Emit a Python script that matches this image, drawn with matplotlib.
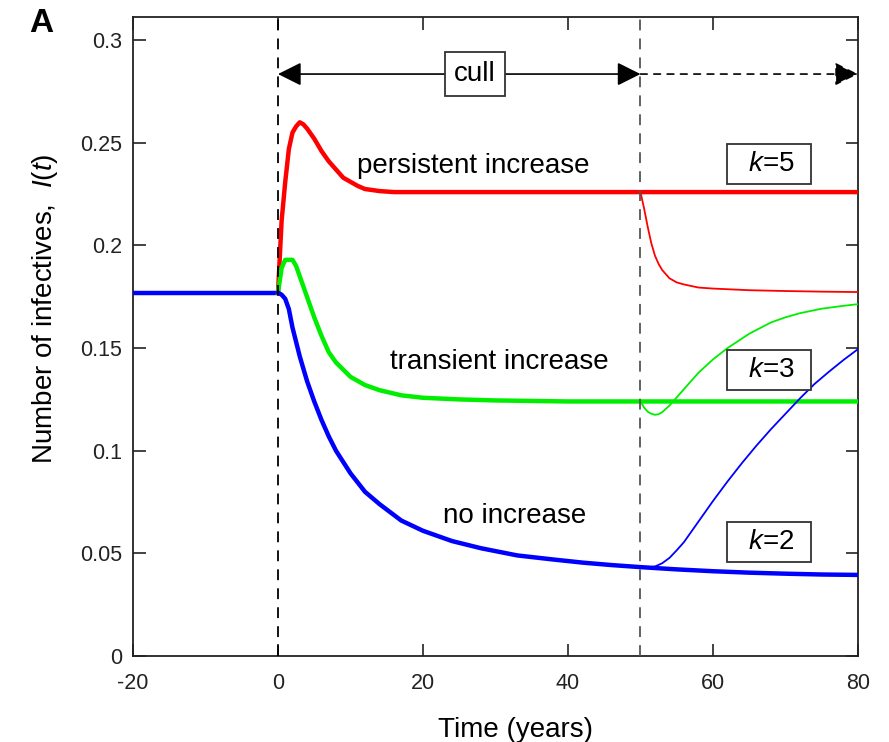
import matplotlib
matplotlib.use("Agg")
import matplotlib.pyplot as plt

plt.rcParams['font.family'] = ['Liberation Sans', 'DejaVu Sans']
plt.rcParams['mathtext.fontset'] = 'custom'
plt.rcParams['mathtext.rm'] = 'Liberation Sans'
plt.rcParams['mathtext.it'] = 'Liberation Sans:italic'
plt.rcParams['axes.unicode_minus'] = False

# --- data ---
# before culling starts, all three runs sit at the same equilibrium
t_pre = [-20, 0]
I_pre = [0.177, 0.177]

# k=5: persistent increase (culling continues)
t_k5 = [0, 0.5, 1, 1.5, 2, 2.5, 3, 3.5, 4, 5, 6, 7, 8, 9, 10, 11, 12, 14, 16, 20, 30, 50, 80]
I_k5 = [0.177, 0.212, 0.231, 0.247, 0.255, 0.258, 0.260, 0.259, 0.257, 0.252, 0.246, 0.241,
        0.237, 0.233, 0.231, 0.229, 0.2275, 0.2265, 0.226, 0.226, 0.226, 0.226, 0.226]
# k=5 after culling stops at t=50
t_k5_stop = [50, 50.5, 51, 51.5, 52, 52.5, 53, 54, 55, 56, 58, 60, 65, 70, 75, 80]
I_k5_stop = [0.226, 0.218, 0.209, 0.201, 0.195, 0.191, 0.188, 0.184, 0.182, 0.181, 0.1795,
             0.179, 0.1782, 0.1778, 0.1775, 0.1773]

# k=3: transient increase
t_k3 = [0, 0.5, 1, 1.5, 2, 2.5, 3, 4, 5, 6, 7, 8, 10, 12, 14, 17, 20, 25, 30, 40, 50, 60, 80]
I_k3 = [0.177, 0.189, 0.193, 0.193, 0.193, 0.190, 0.185, 0.175, 0.165, 0.156, 0.148, 0.143,
        0.136, 0.132, 0.1295, 0.127, 0.1258, 0.125, 0.1245, 0.124, 0.124, 0.124, 0.124]
t_k3_stop = [50, 50.5, 51, 51.5, 52, 52.5, 53, 54, 55, 56, 58, 60, 62, 65, 68, 70, 72, 75, 78, 80]
I_k3_stop = [0.124, 0.121, 0.119, 0.118, 0.1175, 0.1178, 0.1188, 0.122, 0.126, 0.130, 0.138,
             0.1445, 0.150, 0.157, 0.1625, 0.1650, 0.1670, 0.1692, 0.1706, 0.1714]

# k=2: no increase
t_k2 = [0, 0.5, 1, 1.5, 2, 3, 4, 5, 6, 7, 8, 10, 12, 14, 17, 20, 24, 28, 33, 38, 42, 46, 50,
        55, 60, 65, 70, 75, 80]
I_k2 = [0.177, 0.176, 0.174, 0.169, 0.160, 0.146, 0.134, 0.124, 0.115, 0.107, 0.100, 0.089,
        0.080, 0.074, 0.066, 0.061, 0.056, 0.0525, 0.049, 0.047, 0.0455, 0.0443, 0.0433,
        0.0422, 0.0413, 0.0406, 0.0401, 0.0397, 0.0395]
t_k2_stop = [50, 51, 52, 53, 54, 55, 56, 57, 58, 60, 62, 64, 66, 68, 70, 72, 74, 76, 78, 80]
I_k2_stop = [0.0433, 0.0432, 0.0436, 0.0452, 0.0478, 0.0515, 0.0555, 0.0605, 0.0655, 0.0755,
             0.085, 0.094, 0.1025, 0.1105, 0.118, 0.1255, 0.1325, 0.1385, 0.1442, 0.1495]

x_ticks = [-20, 0, 20, 40, 60, 80]
y_ticks = [0, 0.05, 0.1, 0.15, 0.2, 0.25, 0.3]
y_tick_labels = ['0', '0.05', '0.1', '0.15', '0.2', '0.25', '0.3']

cull_start, cull_end = 0, 50

fig = plt.figure(figsize=(8.89, 7.42), dpi=100)
ax = fig.add_axes([0.1496, 0.1159, 0.8155, 0.8612])

# thick = culling continues, thin = culling stopped at t=50
thick = dict(lw=3.2, solid_joinstyle='round', zorder=3)
thin = dict(lw=1.3, solid_joinstyle='round', zorder=3)
ax.plot(t_pre, I_pre, color='blue', solid_capstyle='butt', **thick)
ax.plot(t_k5, I_k5, color='red', **thick)
ax.plot(t_k3, I_k3, color='#00ee00', **thick)
ax.plot(t_k2, I_k2, color='blue', **thick)
ax.plot(t_k5_stop, I_k5_stop, color='red', **thin)
ax.plot(t_k3_stop, I_k3_stop, color='#00ee00', **thin)
ax.plot(t_k2_stop, I_k2_stop, color='blue', **thin)

# culling window markers
for xv, c in [(cull_start, 'black'), (cull_end, '#555555')]:
    ax.axvline(xv, color=c, lw=1.3, ls=(0, (6, 4.5)), zorder=5)

arrow_y = 0.2835
ax.annotate('', xy=(cull_end, arrow_y), xytext=(cull_start, arrow_y),
            arrowprops=dict(arrowstyle='<|-|>', color='black', lw=1.2,
                            mutation_scale=36, shrinkA=0, shrinkB=0), zorder=6)
ax.annotate('', xy=(80, arrow_y), xytext=(cull_end, arrow_y),
            arrowprops=dict(arrowstyle='-|>', color='black', lw=1.2, ls=(0, (4, 4)),
                            mutation_scale=36, shrinkA=0, shrinkB=0), zorder=6)
ax.text(27.2, arrow_y, 'cull', fontsize=20, ha='center', va='center', zorder=7,
        bbox=dict(boxstyle='square,pad=0.33', fc='white', ec='#333333', lw=1.3))

# regime labels
ax.text(27.0, 0.2353, 'persistent increase', fontsize=20, ha='center', va='baseline')
ax.text(30.5, 0.1398, 'transient increase', fontsize=20, ha='center', va='baseline')
ax.text(32.7, 0.0648, 'no increase', fontsize=20, ha='center', va='baseline')

for k, yk in [(5, 0.2397), (3, 0.1393), (2, 0.0555)]:
    ax.text(67.7, yk, '  $k$=%d  ' % k, fontsize=20, ha='center', va='center', zorder=7,
            bbox=dict(boxstyle='square,pad=0.25', fc='white', ec='#333333', lw=1.3))

ax.set_xlim(-20, 80)
ax.set_ylim(0, 0.3113)
ax.set_xticks(x_ticks)
ax.set_yticks(y_ticks)
ax.set_yticklabels(y_tick_labels)
ax.tick_params(direction='in', length=9, width=1.2, top=True, right=True, labelsize=15.5,
               colors='#222222')
ax.tick_params(axis='x', pad=12)
ax.tick_params(axis='y', pad=8)
for s in ax.spines.values():
    s.set_linewidth(1.3)
    s.set_color('#222222')

ax.set_xlabel('Time (years)', fontsize=20)
ax.set_ylabel('Number of infectives,  $I$($t$)', fontsize=20)
ax.xaxis.set_label_coords(0.528, -0.096)
ax.yaxis.set_label_coords(-0.101, 0.543)

fig.text(41 / 889, 1 - 23 / 742, 'A', fontsize=24, fontweight='bold', ha='center', va='center')

fig.savefig('out.png', dpi=100)
